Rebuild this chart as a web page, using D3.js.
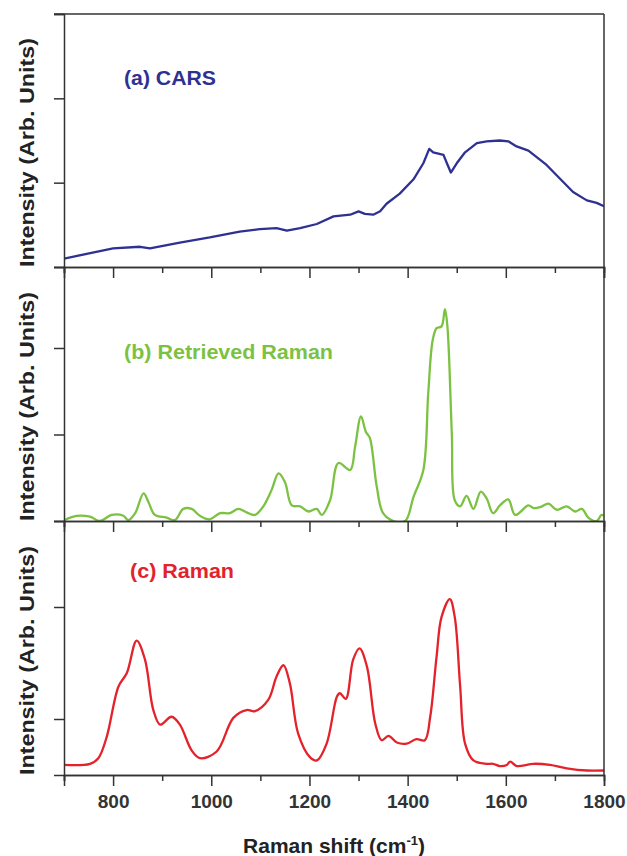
<!DOCTYPE html>
<html>
<head>
<meta charset="utf-8">
<script src="https://cdn.jsdelivr.net/npm/d3@7"></script>
<style>
  body { margin: 0; background: #fff; }
  text { font-family: "Liberation Sans", Arial, sans-serif; font-weight: bold; }
</style>
</head>
<body>
<script>
// Three stacked spectra sharing one Raman-shift axis

var width = 627,
    height = 856;

// (a) CARS
const carsShift = [700, 800, 855, 875, 936, 997, 1058, 1099, 1133, 1154, 1181, 1215, 1249, 1283, 1300, 1313, 1330, 1344, 1357, 1384, 1412, 1432, 1444, 1452, 1473, 1480, 1488, 1500, 1517, 1541, 1561, 1588, 1605, 1622, 1646, 1683, 1710, 1737, 1765, 1785, 1800];
const carsVal = [0.10, 0.22, 0.24, 0.22, 0.29, 0.35, 0.42, 0.45, 0.46, 0.43, 0.46, 0.51, 0.60, 0.62, 0.66, 0.63, 0.62, 0.66, 0.75, 0.87, 1.04, 1.23, 1.40, 1.36, 1.33, 1.23, 1.12, 1.23, 1.36, 1.47, 1.49, 1.50, 1.49, 1.43, 1.38, 1.21, 1.05, 0.89, 0.79, 0.76, 0.72];

// (b) Retrieved Raman
const retShift = [700, 726, 753, 773, 797, 821, 831, 845, 862, 872, 885, 909, 926, 943, 960, 977, 997, 1018, 1038, 1055, 1072, 1089, 1106, 1123, 1137, 1150, 1164, 1181, 1198, 1215, 1225, 1242, 1259, 1283, 1293, 1305, 1315, 1323, 1337, 1350, 1371, 1395, 1412, 1432, 1442, 1451, 1459, 1469, 1476, 1481, 1490, 1496, 1507, 1520, 1534, 1549, 1561, 1574, 1588, 1605, 1619, 1646, 1656, 1670, 1687, 1704, 1724, 1741, 1755, 1768, 1785, 1795, 1800];
const retVal = [0.01, 0.06, 0.05, 0.00, 0.07, 0.06, 0.01, 0.09, 0.32, 0.22, 0.07, 0.04, 0.01, 0.14, 0.14, 0.06, 0.02, 0.09, 0.09, 0.14, 0.10, 0.07, 0.17, 0.36, 0.55, 0.45, 0.18, 0.17, 0.11, 0.14, 0.07, 0.24, 0.67, 0.59, 0.86, 1.21, 1.03, 0.96, 0.40, 0.09, 0.00, 0.00, 0.28, 0.59, 1.48, 2.09, 2.23, 2.25, 2.45, 2.25, 1.01, 0.24, 0.17, 0.29, 0.14, 0.34, 0.26, 0.09, 0.18, 0.25, 0.07, 0.18, 0.15, 0.16, 0.20, 0.13, 0.17, 0.11, 0.14, 0.04, 0.00, 0.07, 0.06];

// (c) Raman
const ramShift = [700, 753, 770, 787, 811, 828, 848, 865, 882, 896, 919, 936, 960, 977, 1011, 1045, 1072, 1089, 1116, 1133, 1147, 1160, 1177, 1201, 1215, 1235, 1256, 1262, 1274, 1289, 1302, 1317, 1334, 1347, 1361, 1378, 1398, 1418, 1435, 1446, 1459, 1469, 1486, 1496, 1507, 1517, 1534, 1561, 1574, 1588, 1602, 1609, 1622, 1656, 1690, 1724, 1765, 1800];
const ramVal = [0.59, 0.60, 0.65, 0.84, 1.29, 1.41, 1.70, 1.53, 1.08, 0.95, 1.02, 0.95, 0.72, 0.65, 0.71, 1.01, 1.08, 1.07, 1.17, 1.38, 1.48, 1.32, 0.87, 0.66, 0.63, 0.78, 1.20, 1.23, 1.18, 1.53, 1.63, 1.47, 0.96, 0.81, 0.85, 0.79, 0.78, 0.82, 0.81, 1.02, 1.56, 1.91, 2.07, 1.91, 1.29, 0.78, 0.63, 0.60, 0.60, 0.58, 0.59, 0.62, 0.58, 0.60, 0.59, 0.56, 0.54, 0.54];

const majorTicks = [800, 1000, 1200, 1400, 1600, 1800];
const minorTicks = [700, 900, 1100, 1300, 1500, 1700];

const panels = [
  { id: "a", label: "(a) CARS", color: "#2e3192", shift: carsShift, val: carsVal,
    top: 14, bottom: 267, domain: [0, 3], yticks: [0, 1, 2, 3], lx: 124, ly: 85, lw: 92, curve: d3.curveLinear },
  { id: "b", label: "(b) Retrieved Raman", color: "#7cc242", shift: retShift, val: retVal,
    top: 267, bottom: 521, domain: [0, 254 / 86.5], yticks: [0, 1, 2], lx: 124, ly: 359, lw: 209, curve: d3.curveCatmullRom },
  { id: "c", label: "(c) Raman", color: "#e3222b", shift: ramShift, val: ramVal,
    top: 521, bottom: 775, domain: [0.5, 0.5 + 254 / 112], yticks: [1, 2], lx: 130, ly: 578, lw: 104, curve: d3.curveCatmullRom }
];

const left = 64, right = 604;
const axisColor = "#333";

const x = d3.scaleLinear().domain([700, 1800]).range([left, right]);

const svg = d3.select("body").append("svg")
  .attr("width", width)
  .attr("height", height);

const defs = svg.append("defs");

panels.forEach((p, i) => {
  const y = d3.scaleLinear().domain(p.domain).range([p.bottom, p.top]);
  const g = svg.append("g");

  defs.append("clipPath").attr("id", "clip-" + p.id)
    .append("rect")
    .attr("x", left).attr("y", p.top)
    .attr("width", right - left).attr("height", p.bottom - p.top);

  const pts = p.shift.map((s, k) => [s, p.val[k]]);
  const line = d3.line()
    .x(d => x(d[0]))
    .y(d => y(d[1]))
    .curve(p.curve);

  g.append("path")
    .datum(pts)
    .attr("clip-path", "url(#clip-" + p.id + ")")
    .attr("fill", "none")
    .attr("stroke", p.color)
    .attr("stroke-width", 2.3)
    .attr("stroke-linejoin", "round")
    .attr("d", line);

  // left axis, ticks only
  g.append("g")
    .attr("transform", `translate(${left},0)`)
    .call(d3.axisLeft(y).tickValues(p.yticks).tickSize(10).tickFormat(""));

  // bottom axis: minor then major ticks
  g.append("g")
    .attr("transform", `translate(0,${p.bottom})`)
    .call(d3.axisBottom(x).tickValues(minorTicks).tickSize(6).tickFormat(""));
  const xAxis = g.append("g")
    .attr("transform", `translate(0,${p.bottom})`)
    .call(d3.axisBottom(x).tickValues(majorTicks).tickSize(11).tickPadding(9)
      .tickFormat(i === 2 ? d3.format("d") : ""));

  g.selectAll(".domain").attr("stroke", axisColor).attr("stroke-width", 1.5);
  g.selectAll(".tick line").attr("stroke", axisColor).attr("stroke-width", 1.5);
  xAxis.selectAll("text")
    .attr("fill", "#333")
    .style("font-size", "19px")
    .style("font-weight", "bold");

  // panel title
  g.append("text")
    .attr("x", p.lx).attr("y", p.ly)
    .attr("fill", p.color)
    .attr("textLength", p.lw)
    .attr("lengthAdjust", "spacingAndGlyphs")
    .style("font-size", "20px")
    .text(p.label);

  // y label
  g.append("text")
    .attr("transform", `translate(34,${p.bottom}) rotate(-90)`)
    .attr("text-anchor", "start")
    .attr("textLength", 229)
    .attr("lengthAdjust", "spacingAndGlyphs")
    .attr("fill", "#222")
    .style("font-size", "21px")
    .text("Intensity (Arb. Units)");
});

// top and right frame
svg.append("line")
  .attr("x1", left - 10).attr("x2", right)
  .attr("y1", 14).attr("y2", 14)
  .attr("stroke", axisColor).attr("stroke-width", 1.5);
svg.append("line")
  .attr("x1", right).attr("x2", right)
  .attr("y1", 14).attr("y2", 775)
  .attr("stroke", axisColor).attr("stroke-width", 1.5);

// x label
const xl = svg.append("text")
  .attr("x", (left + right) / 2).attr("y", 853)
  .attr("text-anchor", "middle")
  .attr("fill", "#222")
  .style("font-size", "21px");
xl.append("tspan").text("Raman shift (cm");
xl.append("tspan").attr("dy", -8).style("font-size", "13px").text("-1");
xl.append("tspan").attr("dy", 8).text(")");
</script>
</body>
</html>
